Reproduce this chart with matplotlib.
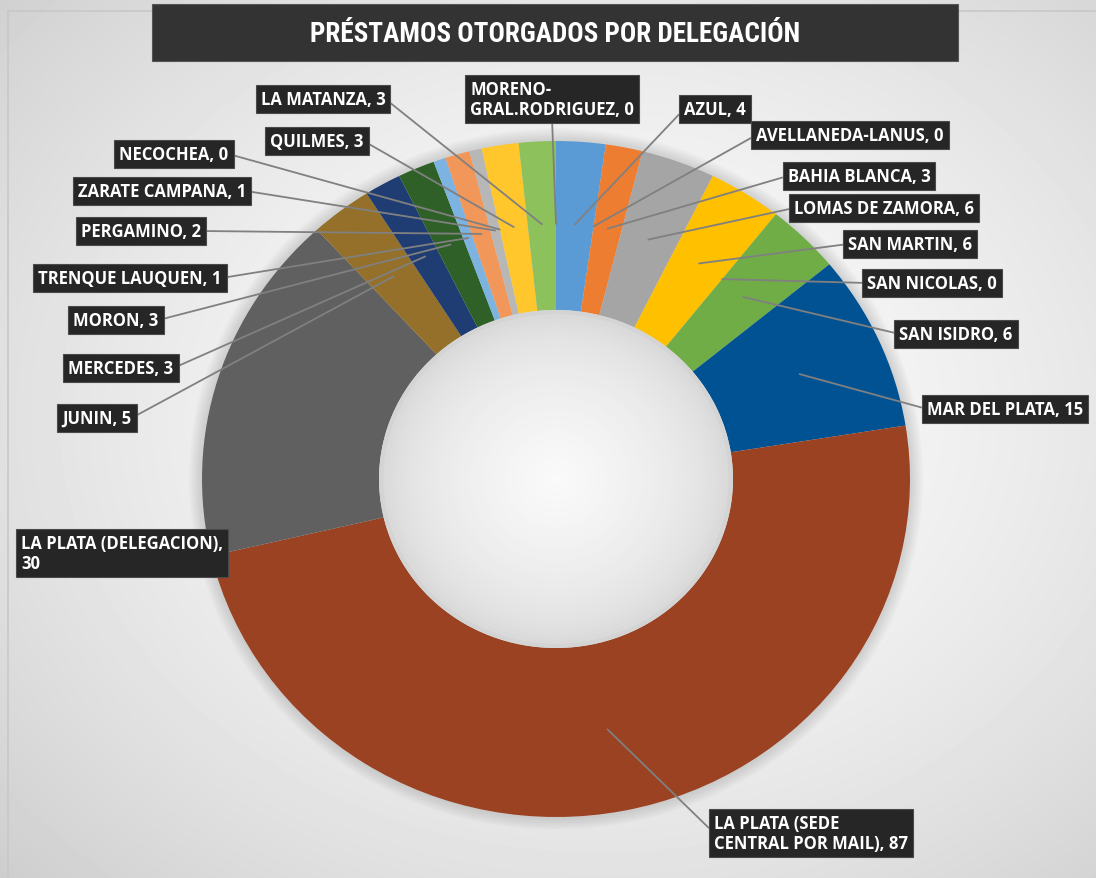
import numpy as np
import matplotlib
matplotlib.use("Agg")
import matplotlib.pyplot as plt
from matplotlib.patches import Circle

# data, clockwise from 12 o'clock
delegaciones = [
    "AZUL", "AVELLANEDA-LANUS", "BAHIA BLANCA", "LOMAS DE ZAMORA", "SAN MARTIN",
    "SAN NICOLAS", "SAN ISIDRO", "MAR DEL PLATA", "LA PLATA (SEDE\nCENTRAL POR MAIL)",
    "LA PLATA (DELEGACION),\n", "JUNIN", "MERCEDES", "MORON", "TRENQUE LAUQUEN",
    "PERGAMINO", "ZARATE CAMPANA", "NECOCHEA", "QUILMES", "LA MATANZA",
    "MORENO-\nGRAL.RODRIGUEZ",
]
prestamos = [4, 0, 3, 6, 6, 0, 6, 15, 87, 30, 5, 3, 3, 1, 2, 1, 0, 3, 3, 0]

colores = [
    "#5b9bd5", "#ed7d31", "#ed7d31", "#a5a5a5", "#ffc000",
    "#4472c4", "#70ad47", "#005293", "#9a4221", "#606060",
    "#94702a", "#1f3d73", "#2e6028", "#7cb3e0", "#f1975a",
    "#b7b7b7", "#ffcd33", "#ffc72c", "#8cc15c", "#5b9bd5",
]

# label box centres in image pixels (x, y from top)
label_pos = [
    (715, 110), (850, 136), (859, 177), (884, 209), (910, 245),
    (932, 284), (956, 335), (1005, 410), (811, 834),
    (122, 554), (97, 419), (121, 369), (116, 321), (130, 279),
    (141, 232), (162, 192), (174, 155), (317, 142), (323, 100),
    (552, 100),
]

W, H = 1096, 879
sy = 354 / 338          # chart is slightly squashed vertically
fig = plt.figure(figsize=(W / 100, H / 100), dpi=100)
ax = fig.add_axes([0, 0, 1, 1])
ax.axis("off")

def Y(py):
    return (H - py) * sy

# soft radial background
yy, xx = np.mgrid[0:H, 0:W]
d = np.hypot((xx - 600) / W, (yy - (H - 420)) / H)
bg = 0.985 - 0.28 * d ** 1.6
ax.imshow(bg, cmap="gray", vmin=0, vmax=1, extent=(0, W, 0, H * sy), origin="lower",
          aspect="auto", zorder=0)
ax.plot([8, 8, W], [0, Y(12), Y(12)], color="#c8c8c8", lw=1.2, zorder=1)

cx, cy, R = 556, Y(480), 354
rin = R * 0.5

# soft shadow around the ring
for k in range(8):
    ax.add_patch(Circle((cx, cy), R + 2 + k * 1.6, fc="#808080", ec="none", alpha=0.035, zorder=1.2))

wedges, _ = ax.pie(prestamos, colors=colores, startangle=90, counterclock=False,
                   radius=R, center=(cx, cy), wedgeprops=dict(width=R - rin, linewidth=0))
for w in wedges:
    w.set_zorder(2)

# shaded hole
for k in range(40):
    f = k / 39
    g = 0.83 + 0.15 * np.sqrt(f)
    ax.add_patch(Circle((cx, cy), rin * (1 - f * 0.97), fc=(g, g, g), ec="none", zorder=2.5))

lab_font = dict(family=["Open Sans", "DejaVu Sans"], weight="bold", size=12, color="white")
for w, nombre, v, (px, py) in zip(wedges, delegaciones, prestamos, label_pos):
    ang = np.deg2rad((w.theta1 + w.theta2) / 2)
    r = R * 0.755
    xy = (cx + r * np.cos(ang), cy + r * np.sin(ang))
    if nombre.endswith("\n"):
        txt = nombre + f"{v}"
    else:
        txt = f"{nombre}, {v}"
    if abs(px - cx) < 20:
        rel = (0.5, 0.0)
    elif px > cx:
        rel = (0.0, 0.5)
    else:
        rel = (1.0, 0.5)
    arrow = dict(arrowstyle="-", color="#808080", lw=1.3, shrinkA=0, shrinkB=0, relpos=rel)
    if v == 30:
        arrow = None
    ax.annotate(txt, xy=xy, xycoords="data", xytext=(px, Y(py)), textcoords="data",
                ha="center", va="center", multialignment="left", zorder=5, linespacing=1.2,
                bbox=dict(boxstyle="square,pad=0.3", fc="#262626", ec="#4a4a4a", lw=0.8),
                arrowprops=arrow, **lab_font)

# title bar
ax.add_patch(plt.Rectangle((152, Y(62)), 806, 57 * sy, fc="#333333", ec="#555555", lw=0.8, zorder=6))
ax.text(555, Y(34), "PRÉSTAMOS OTORGADOS POR DELEGACIÓN", ha="center", va="center",
        color="white", fontsize=19.5, fontweight="bold", zorder=7,
        family=["Roboto Condensed", "Liberation Sans Narrow", "DejaVu Sans Condensed", "Roboto", "DejaVu Sans"])

ax.set_xlim(0, W)
ax.set_ylim(0, H * sy)
ax.set_aspect("auto")

fig.savefig("out.png", dpi=100)
